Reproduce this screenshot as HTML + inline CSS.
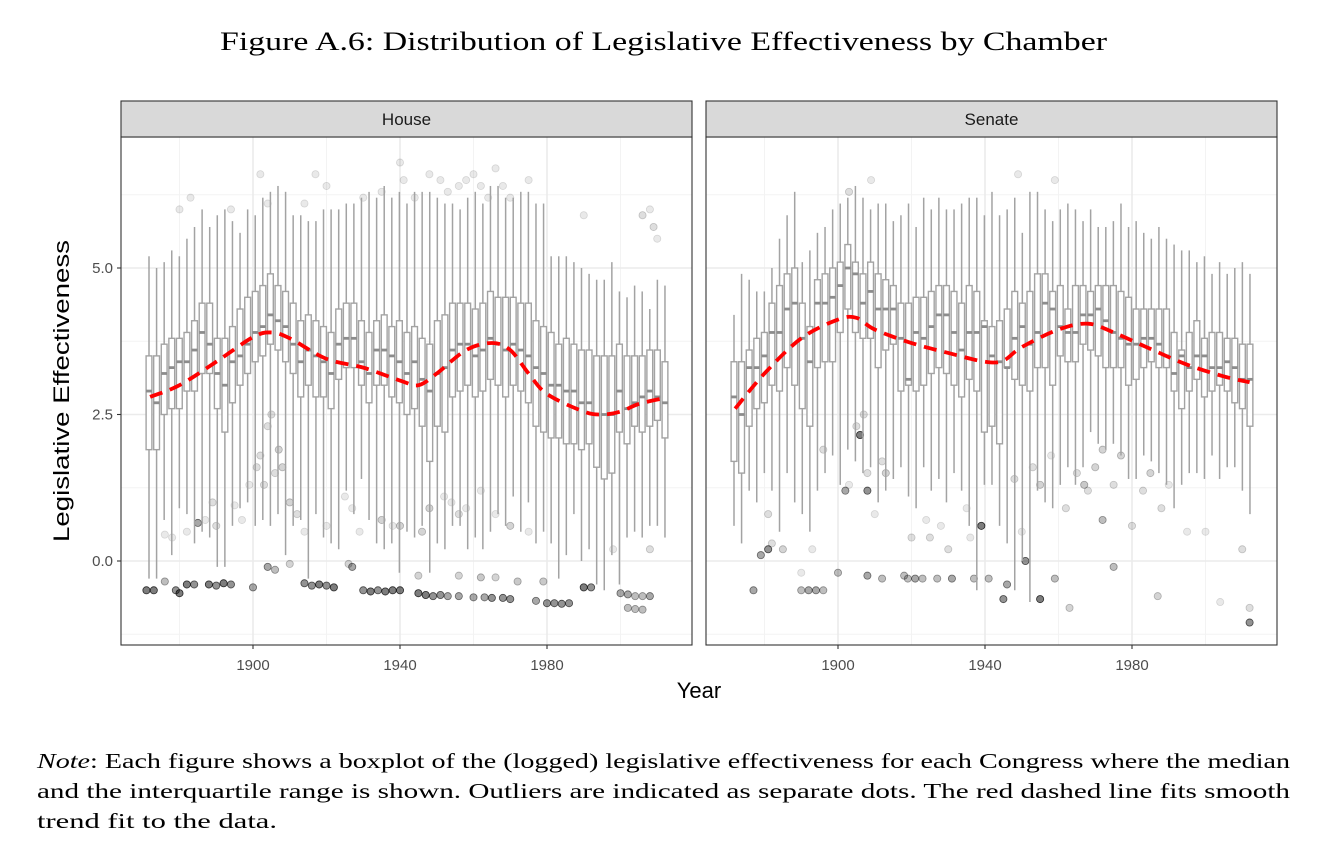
<!DOCTYPE html>
<html><head><meta charset="utf-8"><style>
body{margin:0;background:#fff;width:1328px;height:846px;overflow:hidden;font-family:"Liberation Sans",sans-serif}
svg{position:absolute;left:0;top:0}
</style></head><body>
<svg id="fig" width="1328" height="846" viewBox="0 0 1328 846">
<text x="220" y="50" textLength="887" lengthAdjust="spacingAndGlyphs" font-family="Liberation Serif,serif" font-size="26" fill="#000">Figure A.6: Distribution of Legislative Effectiveness by Chamber</text>
<text x="69" y="391" transform="rotate(-90 69 391)" text-anchor="middle" textLength="302" lengthAdjust="spacingAndGlyphs" font-size="22" fill="#000">Legislative Effectiveness</text>
<text x="699" y="698" text-anchor="middle" font-size="22" fill="#000">Year</text>
<g font-family="Liberation Serif,serif" font-size="21" fill="#000">
<text x="37" y="768" textLength="1253" lengthAdjust="spacingAndGlyphs"><tspan font-style="italic">Note</tspan>: Each figure shows a boxplot of the (logged) legislative effectiveness for each Congress where the median</text>
<text x="37" y="798" textLength="1253" lengthAdjust="spacingAndGlyphs">and the interquartile range is shown. Outliers are indicated as separate dots. The red dashed line fits smooth</text>
<text x="37" y="828" textLength="240" lengthAdjust="spacingAndGlyphs">trend fit to the data.</text>
</g>
</svg>
<script>
// ---- House data ----
const houseMed=[2.9,2.7,3.2,3.3,3.4,3.4,3.6,3.9,3.7,3.2,3.0,3.4,3.5,3.7,3.9,4.0,4.2,4.1,4.0,3.7,3.4,3.6,3.5,3.4,3.2,3.7,3.8,3.8,3.4,3.2,3.6,3.6,3.5,3.4,3.2,3.4,3.1,2.9,3.2,3.3,3.6,3.7,3.7,3.5,3.6,3.8,3.7,3.6,3.7,3.6,3.5,3.3,3.2,3.0,3.0,2.9,2.9,2.7,2.7,2.5,2.5,2.5,2.9,2.6,2.7,2.8,2.9,2.8,2.7];
const houseQ3=[3.5,3.5,3.7,3.8,3.8,3.9,4.1,4.4,4.4,3.8,3.8,4.0,4.3,4.5,4.6,4.7,4.9,4.7,4.6,4.4,4.1,4.2,4.1,4.0,3.9,4.3,4.4,4.4,4.1,3.9,4.1,4.2,4.0,4.1,3.9,4.0,3.8,3.7,4.1,4.2,4.4,4.4,4.4,4.3,4.4,4.6,4.5,4.5,4.5,4.4,4.4,4.1,4.0,3.9,3.7,3.8,3.7,3.6,3.6,3.5,3.5,3.5,3.7,3.5,3.5,3.5,3.6,3.6,3.4];
const houseQ1=[1.9,1.9,2.5,2.6,2.6,2.9,2.9,3.2,3.2,2.6,2.2,2.7,3.0,3.2,3.4,3.5,3.7,3.6,3.4,3.2,2.8,3.0,2.8,2.8,2.6,3.1,3.3,3.3,3.0,2.7,3.0,3.0,2.8,2.7,2.5,2.6,2.3,1.7,2.3,2.2,2.8,2.9,3.0,2.8,2.9,3.1,3.0,2.8,3.0,2.9,2.7,2.3,2.2,2.1,2.1,2.0,2.0,1.9,2.0,1.6,1.4,1.5,2.2,2.0,2.3,2.2,2.3,2.4,2.1];
const houseHi=[5.2,5.0,5.1,5.3,5.2,5.5,5.7,6.0,5.7,5.9,6.0,5.8,5.6,6.0,5.9,6.2,6.3,6.4,6.3,5.9,5.9,5.8,5.8,6.0,6.0,6.0,6.1,6.1,6.2,6.3,6.2,6.4,6.2,6.3,6.1,6.3,6.3,6.3,6.2,6.1,6.1,6.0,6.2,6.3,6.1,6.4,6.4,6.2,6.2,6.3,6.3,6.1,6.1,5.2,5.2,5.2,5.1,5.0,4.9,4.8,4.8,5.1,4.6,4.5,4.7,4.6,4.3,4.8,4.7];
const houseLo=[-0.3,-0.3,0.7,0.1,0.9,0.8,0.3,0.5,0.4,-0.1,-0.1,0.6,0.9,1.0,0.6,0.7,0.6,0.8,0.1,0.6,0.7,-0.3,0.8,0.4,0.3,0.2,1.2,0.8,1.4,0.7,0.3,0.2,0.3,-0.2,0.5,0.4,0.6,-0.2,0.3,0.2,0.6,0.6,0.2,0.4,0.2,0.5,0.8,0.6,1.1,0.5,1.0,0.3,0.5,0.3,-0.3,0.1,0.8,0.0,0.2,-0.4,-0.5,0.1,-0.4,0.4,0.5,0.4,0.6,0.6,0.4];
const houseOutYear=[1871,1873,1876,1879,1880,1882,1884,1888,1890,1892,1894,1900,1904,1906,1914,1916,1918,1920,1922,1927,1930,1932,1934,1936,1938,1940,1945,1947,1949,1951,1953,1956,1960,1963,1965,1968,1970,1977,1980,1982,1984,1986,1990,1992,2000,2002,2004,2006,2008,2002,2004,2006,
1956,1962,1966,1972,1979,1945,1926,1910,
1876,1878,1882,1885,1887,1889,1890,1895,1897,1899,1901,1902,1903,1904,1905,1906,1907,1908,1910,1912,1914,1920,1925,1927,1929,1935,1938,1940,1946,1948,1952,1954,1956,1958,1962,1966,1970,1975,1998,2008,
1880,1883,1894,1902,1904,1914,1917,1920,1930,1935,1940,1941,1944,1948,1951,1953,1956,1958,1960,1962,1964,1966,1968,1970,1975,1990,2006,2008,2009,2010];
const houseOutVal=[-0.5,-0.5,-0.35,-0.5,-0.55,-0.4,-0.4,-0.4,-0.42,-0.38,-0.4,-0.45,-0.1,-0.15,-0.38,-0.42,-0.4,-0.42,-0.45,-0.1,-0.5,-0.52,-0.5,-0.52,-0.5,-0.5,-0.55,-0.58,-0.6,-0.58,-0.6,-0.6,-0.62,-0.62,-0.63,-0.63,-0.65,-0.68,-0.72,-0.72,-0.73,-0.72,-0.45,-0.45,-0.55,-0.57,-0.6,-0.6,-0.6,-0.8,-0.82,-0.83,
-0.25,-0.28,-0.28,-0.35,-0.35,-0.25,-0.05,-0.05,
0.45,0.4,0.5,0.65,0.7,1.0,0.6,0.95,0.7,1.3,1.6,1.8,1.3,2.3,2.5,1.5,1.9,1.6,1.0,0.8,0.5,0.6,1.1,0.9,0.5,0.7,0.6,0.6,0.5,0.9,1.1,1.0,0.8,0.9,1.2,0.8,0.6,0.5,0.2,0.2,
6.0,6.2,6.0,6.6,6.1,6.1,6.6,6.4,6.2,6.3,6.8,6.5,6.2,6.6,6.5,6.3,6.4,6.5,6.6,6.4,6.2,6.7,6.4,6.2,6.5,5.9,5.9,6.0,5.7,5.5];
const houseOutOp=[.6,.6,.3,.5,.6,.6,.5,.6,.5,.6,.5,.4,.4,.3,.5,.5,.6,.5,.6,.4,.5,.6,.5,.6,.6,.6,.6,.6,.5,.5,.4,.4,.4,.4,.5,.5,.5,.4,.5,.5,.5,.5,.6,.5,.4,.4,.3,.3,.4,.3,.3,.3,
.2,.25,.2,.25,.25,.2,.2,.2,
.1,.1,.1,.4,.1,.15,.15,.1,.1,.1,.15,.15,.15,.15,.15,.15,.2,.2,.2,.15,.1,.1,.1,.1,.1,.2,.1,.2,.2,.2,.1,.1,.15,.1,.1,.1,.2,.1,.1,.15,
.1,.1,.1,.1,.1,.1,.1,.1,.1,.1,.1,.1,.1,.1,.1,.1,.1,.1,.1,.1,.1,.1,.1,.1,.1,.1,.15,.1,.15,.1];
const houseTrendYear=[1872,1880,1890,1900,1905,1910,1920,1930,1940,1945,1950,1958,1965,1970,1975,1980,1990,1995,2000,2005,2012];
const houseTrendVal=[2.8,3.0,3.4,3.82,3.9,3.8,3.45,3.3,3.08,3.0,3.2,3.6,3.72,3.6,3.2,2.85,2.55,2.5,2.55,2.68,2.78];
// ---- Senate data ----
const senMed=[2.8,2.5,3.3,3.3,3.5,3.9,3.9,4.3,4.4,3.8,3.4,4.4,4.4,4.5,4.7,5.0,4.9,4.4,4.6,4.3,4.3,4.3,3.8,3.1,3.9,3.8,4.0,4.2,4.2,3.9,3.6,3.9,3.9,4.0,3.5,3.4,3.3,3.8,4.0,3.7,3.9,4.4,4.3,4.0,3.9,3.9,4.2,4.2,4.3,4.1,3.9,3.8,3.7,3.7,3.8,3.8,3.7,3.5,3.2,3.5,3.3,3.5,3.5,3.3,3.3,3.4,3.3,3.1,3.1];
const senQ3=[3.4,3.4,3.6,3.8,3.9,4.4,4.7,4.9,5.0,4.4,4.0,4.8,4.9,5.0,5.1,5.4,5.1,4.9,5.1,4.9,4.8,4.7,4.4,4.4,4.5,4.5,4.6,4.7,4.7,4.6,4.4,4.7,4.6,4.1,4.0,4.1,4.3,4.6,4.4,4.6,4.9,4.9,4.6,4.7,4.3,4.7,4.7,4.6,4.7,4.7,4.7,4.6,4.5,4.3,4.3,4.3,4.3,4.3,3.9,3.6,3.9,4.1,3.8,3.9,3.9,3.8,3.8,3.7,3.7];
const senQ1=[1.7,1.5,2.3,2.6,2.7,3.0,2.9,3.3,3.0,2.6,2.3,3.3,3.4,3.4,3.9,4.3,3.9,3.8,3.8,3.3,3.6,3.7,2.9,3.0,2.9,3.0,3.2,3.3,3.2,3.0,2.8,3.1,2.9,2.2,2.3,2.0,3.3,3.1,3.0,2.9,3.3,3.3,3.0,3.5,3.4,3.4,3.7,3.6,3.5,3.3,3.3,3.3,3.0,3.1,3.3,3.4,3.3,3.3,2.9,2.6,2.9,3.1,2.8,2.9,3.0,2.9,2.7,2.6,2.3];
const senHi=[4.2,4.9,4.8,4.6,4.6,5.0,5.5,5.9,6.3,5.1,5.3,5.6,5.7,6.0,6.1,6.2,6.4,6.2,6.0,6.1,6.1,5.8,5.9,6.1,5.7,6.2,6.0,6.2,6.0,6.0,6.1,6.2,6.2,5.9,6.3,5.9,6.0,6.2,5.6,6.3,6.3,6.0,5.8,6.0,6.1,6.0,5.8,6.0,5.7,5.7,5.8,6.1,5.7,5.8,5.6,5.5,5.7,5.5,5.4,5.3,5.3,5.1,5.2,4.9,5.1,4.9,5.0,5.1,4.9];
const senLo=[0.6,0.3,1.2,1.0,1.5,1.2,0.5,1.5,1.0,0.8,0.5,1.2,1.5,1.8,1.3,1.9,1.7,1.5,1.6,1.0,1.2,1.4,1.6,1.1,0.9,1.6,1.2,1.4,1.0,1.5,1.2,0.6,-0.5,1.3,1.3,0.6,0.3,-0.5,0.0,-0.7,1.2,1.0,0.9,1.3,1.6,1.3,1.6,2.2,2.0,1.9,2.0,1.8,1.4,1.4,1.8,1.7,1.5,1.3,0.9,1.3,1.5,1.5,1.4,1.8,1.4,1.6,1.6,1.2,0.8];
const senOutYear=[1877,1879,1881,1890,1892,1894,1896,1900,1902,1906,1908,1908,1912,1918,1919,1921,1923,1927,1931,1939,1937,1941,1945,1946,1951,1955,1959,1963,1972,1975,1987,2012,2012,
1881,1882,1885,1890,1893,1896,1903,1905,1907,1908,1910,1912,1913,1920,1924,1925,1928,1930,1935,1936,1948,1950,1953,1955,1958,1962,1965,1967,1968,1970,1972,1975,1977,1980,1983,1985,1988,1990,1995,2000,2004,2010,1903,1909,1949,1959];
const senOutVal=[-0.5,0.1,0.2,-0.5,-0.5,-0.5,-0.5,-0.2,1.2,2.15,1.2,-0.25,-0.3,-0.25,-0.3,-0.3,-0.3,-0.3,-0.3,0.6,-0.3,-0.3,-0.65,-0.4,0.0,-0.65,-0.3,-0.8,0.7,-0.1,-0.6,-1.05,-0.8,
0.8,0.3,0.2,-0.2,0.2,1.9,1.3,2.3,2.5,1.5,0.8,1.7,1.5,0.4,0.7,0.4,0.6,0.2,0.9,0.4,1.4,0.5,1.6,1.3,1.8,0.9,1.5,1.3,1.2,1.6,1.9,1.3,1.8,0.6,1.2,1.5,0.9,1.3,0.5,0.5,-0.7,0.2,6.3,6.5,6.6,6.5];
const senOutOp=[.4,.4,.5,.3,.4,.4,.3,.3,.4,.6,.5,.4,.3,.3,.3,.4,.3,.3,.4,.6,.3,.3,.5,.4,.5,.6,.3,.2,.3,.3,.2,.5,.15,
.15,.15,.2,.1,.1,.15,.1,.15,.15,.15,.1,.15,.2,.15,.1,.15,.1,.15,.1,.1,.15,.1,.15,.2,.1,.15,.15,.25,.15,.2,.2,.15,.2,.15,.15,.2,.15,.1,.1,.1,.1,.15,.15,.1,.1,.1];
const senTrendYear=[1872,1880,1890,1900,1905,1910,1920,1930,1940,1945,1950,1960,1968,1975,1985,1995,2005,2012];
const senTrendVal=[2.6,3.2,3.8,4.12,4.15,3.95,3.72,3.55,3.4,3.42,3.65,3.95,4.05,3.9,3.62,3.35,3.15,3.05];
const yTicks=[0.0,2.5,5.0];
const yTickLabels=["0.0","2.5","5.0"];
const xTicks=[1900,1940,1980];
const xTickLabels=["1900","1940","1980"];

const NS="http://www.w3.org/2000/svg";
const svg=document.getElementById('fig');
function el(tag,attrs,parent){const e=document.createElementNS(NS,tag);for(const k in attrs)e.setAttribute(k,attrs[k]);(parent||svg).appendChild(e);return e;}
const PT=137,PB=645;
function yS(v){return 561-(v)*58.6;}
function makePanel(name,left,med,q3,q1,hi,lo,oy,ov,oo,ty,tv,idx){
  const right=left+571;
  const xS=y=>left+132+(y-1900)*3.675;
  const g=el('g',{});
  
  
  el('rect',{x:left,y:PT,width:571,height:PB-PT,fill:'#fff'},g);
  [-1.25,1.25,3.75,6.25].forEach(v=>el('line',{x1:left,x2:right,y1:yS(v),y2:yS(v),stroke:'#f3f3f3','stroke-width':1},g));
  [1880,1920,1960,2000].forEach(v=>el('line',{x1:xS(v),x2:xS(v),y1:PT,y2:PB,stroke:'#f3f3f3','stroke-width':1},g));
  yTicks.forEach(v=>el('line',{x1:left,x2:right,y1:yS(v),y2:yS(v),stroke:'#ebebeb','stroke-width':1.6},g));
  xTicks.forEach(v=>el('line',{x1:xS(v),x2:xS(v),y1:PT,y2:PB,stroke:'#ebebeb','stroke-width':1.6},g));
  const m=Math.min(oy.length,ov.length);
  for(let i=0;i<m;i++){
    const op=(oo[i]===undefined)?0.1:oo[i];
    const c=el('circle',{cx:xS(oy[i]),cy:yS(ov[i]),r:3.6,fill:'#000','fill-opacity':op*0.85,stroke:'#000','stroke-opacity':Math.min(1,op*1.3),'stroke-width':0.8},g);
    
    
  }
  const n=med.length;
  for(let i=0;i<n;i++){
    const yr=1871.7+i*(2012.1-1871.7)/(n-1);
    const cx=xS(yr);
    const bg=el('g',{},g);
    
    
    el('line',{x1:cx,x2:cx,y1:yS(hi[i]),y2:yS(q3[i]),stroke:'#a3a3a3','stroke-width':1.5},bg);
    el('line',{x1:cx,x2:cx,y1:yS(q1[i]),y2:yS(lo[i]),stroke:'#a3a3a3','stroke-width':1.5},bg);
    el('rect',{x:cx-2.9,y:yS(q3[i]),width:5.8,height:yS(q1[i])-yS(q3[i]),fill:'#fff',stroke:'#a3a3a3','stroke-width':1.4},bg);
    el('line',{x1:cx-2.9,x2:cx+2.9,y1:yS(med[i]),y2:yS(med[i]),stroke:'#8c8c8c','stroke-width':2.8},bg);
  }
  const pts=ty.map((y,i)=>[xS(y),yS(tv[i])]);
  let d='M'+pts[0][0]+','+pts[0][1];
  for(let i=0;i<pts.length-1;i++){
    const p0=pts[Math.max(0,i-1)],p1=pts[i],p2=pts[i+1],p3=pts[Math.min(pts.length-1,i+2)];
    d+=' C'+(p1[0]+(p2[0]-p0[0])/6)+','+(p1[1]+(p2[1]-p0[1])/6)+' '+(p2[0]-(p3[0]-p1[0])/6)+','+(p2[1]-(p3[1]-p1[1])/6)+' '+p2[0]+','+p2[1];
  }
  const tr=el('path',{d:d,fill:'none',stroke:'#ff0000','stroke-width':3.8,'stroke-dasharray':'13,8'},g);
  
  
  el('rect',{x:left,y:PT,width:571,height:PB-PT,fill:'none',stroke:'#333','stroke-width':1.1},g);
  const st=el('rect',{x:left,y:101,width:571,height:36,fill:'#d9d9d9',stroke:'#333','stroke-width':1.1},g);
  
  
  const sl=el('text',{x:left+285.5,y:125,'text-anchor':'middle','font-size':17,fill:'#1a1a1a'},g);
  sl.textContent=name==='house'?'House':'Senate';
  
  
  xTicks.forEach((v,i)=>{
    el('line',{x1:xS(v),x2:xS(v),y1:PB,y2:PB+4,stroke:'#333','stroke-width':1.1},g);
    const t=el('text',{x:xS(v),y:670,'text-anchor':'middle','font-size':15,fill:'#4d4d4d'},g);
    t.textContent=xTickLabels[i];
    
    
  });
  if(idx===0){
    yTicks.forEach((v,i)=>{
      el('line',{x1:left-4,x2:left,y1:yS(v),y2:yS(v),stroke:'#333','stroke-width':1.1},g);
      const t=el('text',{x:left-8,y:yS(v)+5,'text-anchor':'end','font-size':15,fill:'#4d4d4d'},g);
      t.textContent=yTickLabels[i];
      
      
    });
  }
}
makePanel('house',121,houseMed,houseQ3,houseQ1,houseHi,houseLo,houseOutYear,houseOutVal,houseOutOp,houseTrendYear,houseTrendVal,0);
makePanel('senate',706,senMed,senQ3,senQ1,senHi,senLo,senOutYear,senOutVal,senOutOp,senTrendYear,senTrendVal,1);
</script>
</body></html>
